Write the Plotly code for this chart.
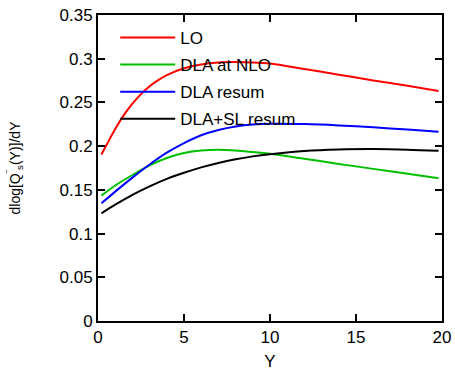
import plotly.graph_objects as go

Y_lo = [0.2, 0.5, 1, 1.5, 2, 2.5, 3, 3.5, 4, 5, 6, 7, 8, 9, 10, 12, 14, 16, 18, 19.8]
lo = [0.1905, 0.2015, 0.2195, 0.2355, 0.2485, 0.2595, 0.2685, 0.2755, 0.2812, 0.2890, 0.2935, 0.2958, 0.2963, 0.2958, 0.2945, 0.2882, 0.2817, 0.2752, 0.2690, 0.2632]

Y = [0.2, 1, 2, 3, 4, 5, 6, 7, 8, 9, 10, 12, 14, 16, 18, 19.8]
dla_nlo = [0.1434, 0.155, 0.167, 0.178, 0.1865, 0.1922, 0.195, 0.1958, 0.1950, 0.1932, 0.1912, 0.1855, 0.1797, 0.174, 0.1683, 0.1632]
dla_resum = [0.1346, 0.148, 0.164, 0.179, 0.1925, 0.2035, 0.2125, 0.2185, 0.2225, 0.2248, 0.2256, 0.2252, 0.2237, 0.2215, 0.2190, 0.2166]
dla_sl = [0.1232, 0.133, 0.1443, 0.154, 0.1625, 0.1695, 0.1757, 0.1808, 0.1850, 0.1883, 0.1908, 0.1945, 0.1962, 0.1966, 0.1960, 0.1948]

names = ["LO", "DLA at NLO", "DLA resum", "DLA+SL resum"]
colors = ["#ff0000", "#00c000", "#0000ff", "#000000"]
xs = [Y_lo, Y, Y, Y]
series = [lo, dla_nlo, dla_resum, dla_sl]

fig = go.Figure()
for i, (n, c, x, s) in enumerate(zip(names, colors, xs, series)):
    fig.add_trace(go.Scatter(x=x, y=s, mode="lines", name=n, legendgroup=str(i),
                             line=dict(color=c, width=2, shape="spline", smoothing=0.8)))

axis_common = dict(showline=True, mirror="ticks", linecolor="black", linewidth=2,
                   ticks="inside", ticklen=7, tickwidth=1.5, tickcolor="black",
                   showgrid=False, zeroline=False, automargin=False,
                   tickfont=dict(size=17, color="black"))

fig.update_layout(
    width=455, height=371,
    margin=dict(l=98, r=13, t=15, b=50, autoexpand=False),
    paper_bgcolor="white", plot_bgcolor="white",
    font=dict(family="Liberation Sans, Arial, sans-serif", size=17, color="black"),
    xaxis=dict(range=[0, 20], dtick=5, tick0=0,
               title=dict(text="Y", font=dict(size=17), standoff=13), **axis_common),
    yaxis=dict(range=[0, 0.35], dtick=0.05, tick0=0,
               title=dict(text="dlog[Q<sup>‾</sup><sub>s</sub>(Y)]/dY", font=dict(size=14), standoff=36),
               **axis_common),
    legend=dict(x=0.05, y=0.984, xanchor="left", yanchor="top",
                bgcolor="rgba(0,0,0,0)", borderwidth=0,
                font=dict(size=17, color="black"), itemwidth=55,
                tracegroupgap=2),
    showlegend=True,
)

fig.write_html("out.html")
